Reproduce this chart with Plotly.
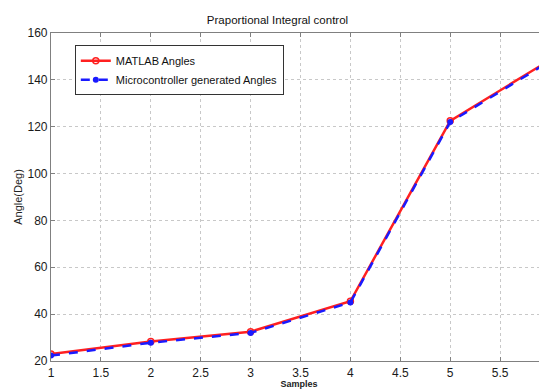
import plotly.graph_objects as go

samples = [1, 2, 3, 4, 5, 6]
matlab_angles = [23.0, 28.3, 32.5, 45.5, 122.5, 148.5]
micro_angles = [22.3, 27.8, 32.0, 45.0, 122.0, 148.0]
x_ticks = [1, 1.5, 2, 2.5, 3, 3.5, 4, 4.5, 5, 5.5]
y_ticks = [20, 40, 60, 80, 100, 120, 140, 160]

FONT = "Liberation Sans, Arial, sans-serif"

fig = go.Figure()
fig.add_trace(go.Scatter(
    x=samples, y=matlab_angles, mode="lines+markers", name="MATLAB Angles",
    line=dict(color="#ff2020", width=2.5),
    marker=dict(symbol="circle-open", size=6, color="#ff2020", line=dict(width=1.5)),
))
fig.add_trace(go.Scatter(
    x=samples, y=micro_angles, mode="lines+markers", name="Microcontroller generated Angles",
    line=dict(color="#1a1aff", width=2.5, dash="dash"),
    marker=dict(symbol="circle", size=6, color="#1a1aff"),
))

axis_common = dict(
    showline=True, linecolor="#808080", linewidth=1.2, mirror="ticks",
    ticks="inside", ticklen=4, tickcolor="#808080",
    showgrid=True, gridcolor="#c8c8c8", griddash="dot", gridwidth=1,
    zeroline=False,
    tickfont=dict(family=FONT, size=12, color="#1a1a1a"),
)

# page has an 8px body margin, so the figure is 8px smaller than the window
fig.update_layout(
    width=539, height=384,
    margin=dict(l=43, r=0, t=25, b=31),
    paper_bgcolor="white", plot_bgcolor="white",
    title=dict(text="Praportional Integral control", x=0.5, xanchor="center",
               y=0.968, yanchor="middle",
               font=dict(family=FONT, size=11.5, color="#111")),
    xaxis=dict(range=[1, 5.97], tickvals=x_ticks, ticktext=[str(v) for v in x_ticks],
               title=dict(text="<b>Samples</b>", standoff=1,
                          font=dict(family=FONT, size=9, color="#222")),
               **axis_common),
    yaxis=dict(range=[20, 160], tickvals=y_ticks,
               title=dict(text="Angle(Deg)", standoff=2,
                          font=dict(family=FONT, size=11, color="#222")),
               **axis_common),
    legend=dict(x=0.048, y=0.963, xanchor="left", yanchor="top",
                bgcolor="white", bordercolor="#333", borderwidth=1,
                font=dict(family=FONT, size=11, color="#111"),
                tracegroupgap=0, itemwidth=30),
    showlegend=True,
)

fig.write_html("out.html")
